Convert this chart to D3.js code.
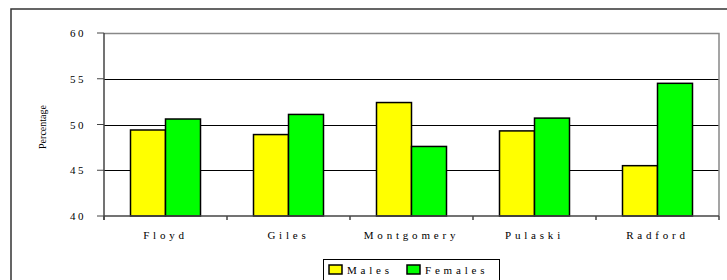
<!DOCTYPE html>
<html>
<head>
<meta charset="utf-8">
<script src="https://cdn.jsdelivr.net/npm/d3@7"></script>
<style>
  body { margin: 0; background: #fff; }
  text { font-family: "Liberation Serif", "Times New Roman", serif; fill: #000; }
</style>
</head>
<body>
<div id="chart"></div>
<script>
var counties = ["Floyd", "Giles", "Montgomery", "Pulaski", "Radford"]
var males = [49.4, 48.9, 52.4, 49.3, 45.5]
var females = [50.6, 51.1, 47.6, 50.7, 54.5]
var yTicks = [40, 45, 50, 55, 60]
var seriesNames = ["Males", "Females"]
var seriesColors = ["#ffff00", "#00ff00"]

var W = 727, H = 280
var svg = d3.select("#chart").append("svg").attr("width", W).attr("height", H)

// outer frame
svg.append("rect").attr("x", 11).attr("y", 9).attr("width", 730).attr("height", 300)
    .attr("fill", "none").attr("stroke", "#333").attr("stroke-width", 1.5)

var pLeft = 104, pRight = 719, pTop = 33, pBottom = 216

var x = d3.scaleBand().domain(counties).range([pLeft, pRight])
var xs = d3.scaleBand().domain(seriesNames).range([0, 70])
var y = d3.scaleLinear().domain([40, 60]).range([pBottom, pTop])

// gridlines
svg.selectAll("line.grid").data(yTicks.slice(1, 4)).enter().append("line")
    .attr("x1", pLeft).attr("x2", pRight)
    .attr("y1", function(d){ return Math.round(y(d)) + 0.5 })
    .attr("y2", function(d){ return Math.round(y(d)) + 0.5 })
    .attr("stroke", "#000").attr("stroke-width", 1)

// plot frame top/right
svg.append("path")
    .attr("d", "M" + pLeft + "," + (pTop + 0.5) + "H" + pRight + "V" + pBottom)
    .attr("fill", "none").attr("stroke", "#888").attr("stroke-width", 1.5)

// bars
var data = []
counties.forEach(function(c, i){
    data.push({c: c, s: "Males", v: males[i], col: seriesColors[0]})
    data.push({c: c, s: "Females", v: females[i], col: seriesColors[1]})
})
svg.selectAll("rect.bar").data(data).enter().append("rect")
    .attr("x", function(d){ return x(d.c) + (x.bandwidth() - 70) / 2 + xs(d.s) })
    .attr("y", function(d){ return y(d.v) })
    .attr("width", xs.bandwidth())
    .attr("height", function(d){ return pBottom - y(d.v) })
    .attr("fill", function(d){ return d.col })
    .attr("stroke", "#000").attr("stroke-width", 1.5)

// y axis
svg.append("line").attr("x1", pLeft).attr("x2", pLeft).attr("y1", pTop).attr("y2", pBottom + 4)
    .attr("stroke", "#444").attr("stroke-width", 1.5)
svg.selectAll("line.ytick").data(yTicks).enter().append("line")
    .attr("x1", pLeft - 7).attr("x2", pLeft)
    .attr("y1", function(d){ return y(d) }).attr("y2", function(d){ return y(d) })
    .attr("stroke", "#444").attr("stroke-width", 1)
svg.selectAll("text.ylab").data(yTicks).enter().append("text")
    .attr("x", 86).attr("y", function(d){ return y(d) + 4 })
    .attr("text-anchor", "end").attr("font-size", 11).attr("letter-spacing", 2.5)
    .text(function(d){ return d })

// x axis
svg.append("line").attr("x1", pLeft).attr("x2", pRight).attr("y1", pBottom).attr("y2", pBottom)
    .attr("stroke", "#444").attr("stroke-width", 1.5)
var bounds = counties.map(function(c){ return x(c) }).concat([pRight])
svg.selectAll("line.xtick").data(bounds).enter().append("line")
    .attr("x1", function(d){ return d }).attr("x2", function(d){ return d })
    .attr("y1", pBottom).attr("y2", pBottom + 4)
    .attr("stroke", "#444").attr("stroke-width", 1.5)
svg.selectAll("text.xlab").data(counties).enter().append("text")
    .attr("x", function(d){ return x(d) + x.bandwidth() / 2 })
    .attr("y", 239)
    .attr("text-anchor", "middle").attr("font-size", 11).attr("letter-spacing", 3.8)
    .text(function(d){ return d })

// y title
svg.append("text")
    .attr("transform", "translate(46,127) rotate(-90)")
    .attr("text-anchor", "middle").attr("font-size", 10)
    .text("Percentage")

// legend
svg.append("rect").attr("x", 323.5).attr("y", 259.5).attr("width", 176).attr("height", 40)
    .attr("fill", "#fff").attr("stroke", "#000").attr("stroke-width", 1)
var lx = [329, 407]
seriesNames.forEach(function(s, i){
    svg.append("rect").attr("x", lx[i]).attr("y", 265).attr("width", 13).attr("height", 9)
        .attr("fill", seriesColors[i]).attr("stroke", "#000").attr("stroke-width", 1.5)
    svg.append("text").attr("x", lx[i] + 18).attr("y", 274)
        .attr("font-size", 11).attr("letter-spacing", 3.8)
        .text(s)
})
</script>
</body>
</html>
